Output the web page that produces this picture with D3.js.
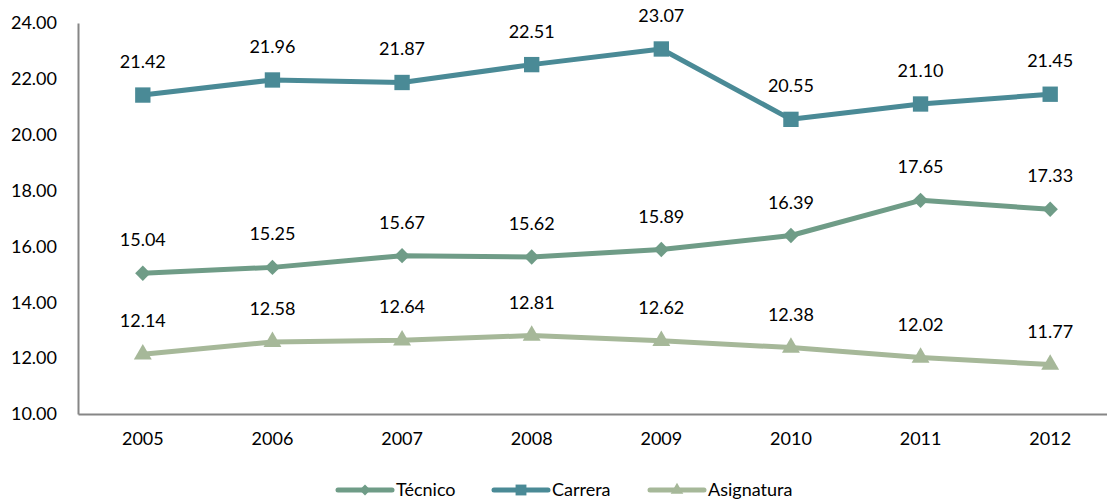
<!DOCTYPE html>
<html>
<head>
<meta charset="utf-8">
<script src="https://cdn.jsdelivr.net/npm/d3@7"></script>
<style>
  body { margin: 0; background: #fff; }
  text { font-family: Lato, "Open Sans", sans-serif; fill: #000; }
</style>
</head>
<body>
<div id="chart"></div>
<script>
// 데이터
var years = ["2005", "2006", "2007", "2008", "2009", "2010", "2011", "2012"];
var tecnico = [15.04, 15.25, 15.67, 15.62, 15.89, 16.39, 17.65, 17.33];
var carrera = [21.42, 21.96, 21.87, 22.51, 23.07, 20.55, 21.10, 21.45];
var asignatura = [12.14, 12.58, 12.64, 12.81, 12.62, 12.38, 12.02, 11.77];
var yTicks = [10, 12, 14, 16, 18, 20, 22, 24];

var series = [
  { name: "Técnico", values: tecnico, color: "#6f9c87", symbol: d3.symbolDiamond2, size: 150 },
  { name: "Carrera", values: carrera, color: "#4a8a96", symbol: d3.symbolSquare2, size: 300 },
  { name: "Asignatura", values: asignatura, color: "#a6b899", symbol: d3.symbolTriangle2, size: 230 }
];

var W = 1107, H = 504;
var margin = { top: 23, right: -8, bottom: 90, left: 78 };
var width = W - margin.left - margin.right;
var height = H - margin.top - margin.bottom;
var fs = 18;

var svg = d3.select("#chart").append("svg")
  .attr("width", W).attr("height", H)
  .append("g")
  .attr("transform", "translate(" + margin.left + "," + margin.top + ")");

var x = d3.scaleBand().domain(years).range([0, width]);
var y = d3.scaleLinear().domain([10, 24]).range([height, 0]);

// y축
var yAxis = svg.append("g")
  .call(d3.axisLeft(y).tickValues(yTicks).tickSize(0).tickPadding(21).tickFormat(d3.format(".2f")));
yAxis.select(".domain").attr("stroke", "#868686").attr("stroke-width", 2);
yAxis.selectAll("text").attr("font-size", fs);

// x축
var xAxis = svg.append("g")
  .attr("transform", "translate(0," + height + ")")
  .call(d3.axisBottom(x).tickSize(0).tickPadding(18));
xAxis.select(".domain").attr("stroke", "#868686").attr("stroke-width", 2);
xAxis.selectAll("text").attr("font-size", fs);

var line = d3.line()
  .x(function(d, i) { return x(years[i]) + x.bandwidth() / 2; })
  .y(function(d) { return y(d); });

series.forEach(function(s) {
  svg.append("path")
    .datum(s.values)
    .attr("d", line)
    .attr("fill", "none")
    .attr("stroke", s.color)
    .attr("stroke-width", 5)
    .attr("stroke-linejoin", "round");

  svg.selectAll(null).data(s.values).enter().append("path")
    .attr("d", d3.symbol().type(s.symbol).size(s.size))
    .attr("fill", s.color)
    .attr("transform", function(d, i) {
      return "translate(" + (x(years[i]) + x.bandwidth() / 2) + "," + y(d) + ")";
    });

  svg.selectAll(null).data(s.values).enter().append("text")
    .attr("x", function(d, i) { return x(years[i]) + x.bandwidth() / 2; })
    .attr("y", function(d) { return y(d) - 27; })
    .attr("text-anchor", "middle")
    .attr("font-size", fs)
    .text(function(d) { return d.toFixed(2); });
});

// 범례
var legendX = [338, 494, 650];
var legend = svg.append("g").attr("transform", "translate(" + (-margin.left) + "," + (490 - margin.top) + ")");
series.forEach(function(s, i) {
  var g = legend.append("g").attr("transform", "translate(" + legendX[i] + ",0)");
  g.append("line").attr("x1", 0).attr("x2", 54).attr("y1", 0).attr("y2", 0)
    .attr("stroke", s.color).attr("stroke-width", 5).attr("stroke-linecap", "round");
  g.append("path").attr("d", d3.symbol().type(s.symbol).size(s.size * 0.5))
    .attr("fill", s.color).attr("transform", "translate(27,0)");
  g.append("text").attr("x", 58).attr("y", 0).attr("dy", "0.35em")
    .attr("font-size", fs).text(s.name);
});
</script>
</body>
</html>
